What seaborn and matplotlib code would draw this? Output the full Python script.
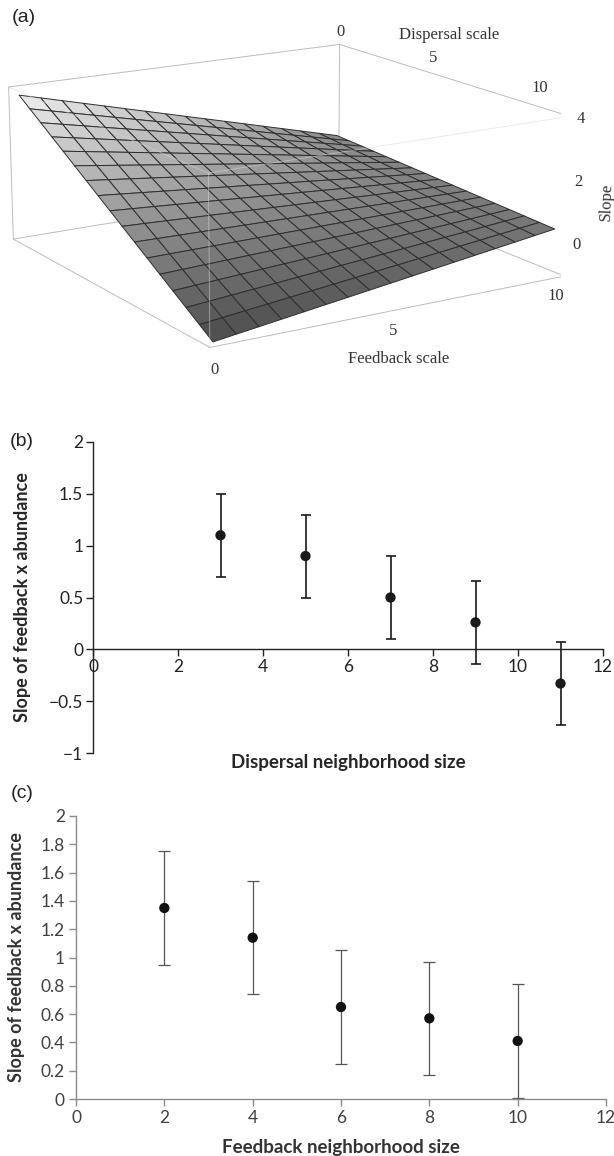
import numpy as np
import matplotlib
matplotlib.use("Agg")
import matplotlib.pyplot as plt
import seaborn as sns
from matplotlib import cm, colors
from matplotlib.ticker import FuncFormatter, MultipleLocator

sns.set_style("ticks")
plt.rcParams["font.family"] = ["Lato", "DejaVu Sans"]

# (a) fitted slope surface: slope = b0 + b_d*dispersal + b_f*feedback + b_df*dispersal*feedback
scale_ticks = [0, 5, 10]
slope_ticks = [0, 2, 4]
intercept = 3.8
coef_dispersal = -0.48
coef_feedback = -0.295
coef_interaction = 0.044

# (b) slope vs dispersal neighborhood size
dispersal_size = [3, 5, 7, 9, 11]
dispersal_slope = [1.1, 0.9, 0.5, 0.26, -0.33]
dispersal_err = [0.4, 0.4, 0.4, 0.4, 0.4]

# (c) slope vs feedback neighborhood size
feedback_size = [2, 4, 6, 8, 10]
feedback_slope = [1.35, 1.14, 0.65, 0.57, 0.41]
feedback_err = [0.4, 0.4, 0.4, 0.4, 0.4]

W, H = 614, 1156
fig = plt.figure(figsize=(W / 100, H / 100), dpi=100)


def rect(l, t, r, b):
    return [l / W, 1 - b / H, (r - l) / W, (b - t) / H]


def fmt(v, pos):
    return f"{v:g}".replace("-", "\u2212")


# ---------------- (a) ----------------
# mathematica-like box: small padding around the data, perspective view
pad = 0.2
lo_s, hi_s = -pad, 10 + pad
lo, hi = -1.05, 4.05
S = 575.3
ax3 = fig.add_axes([-13.8 / W, 680.7 / H, S / W, S / H], projection="3d")
ax3.set_xlim(lo_s, hi_s)
ax3.set_ylim(lo_s, hi_s)
ax3.set_zlim(lo, hi)
ax3.set_proj_type("persp", focal_length=0.75)
ax3.set_box_aspect((1, 1, 0.4))
ax3.view_init(elev=15, azim=-32)
ax3.set_axis_off()
ax3.computed_zorder = False

grid = np.linspace(0, 10, 17)
D, F = np.meshgrid(grid, grid, indexing="ij")
Z = intercept + coef_dispersal * D + coef_feedback * F + coef_interaction * D * F
shade = cm.gray(colors.Normalize(-1, 4)(Z) * 0.65 + 0.28)

box = "#bcbcbc"
back_edges = [
    ([lo_s, lo_s], [lo_s, hi_s], [hi, hi]), ([lo_s, hi_s], [hi_s, hi_s], [hi, hi]),
    ([lo_s, lo_s], [lo_s, hi_s], [lo, lo]), ([lo_s, hi_s], [hi_s, hi_s], [lo, lo]),
    ([lo_s, lo_s], [hi_s, hi_s], [lo, hi]), ([lo_s, lo_s], [lo_s, lo_s], [lo, hi]),
    ([hi_s, hi_s], [hi_s, hi_s], [lo, hi]), ([lo_s, hi_s], [lo_s, lo_s], [lo, lo]),
    ([hi_s, hi_s], [lo_s, hi_s], [lo, lo]),
]
for xs, ys, zs in back_edges:
    ax3.plot(xs, ys, zs, color=box, lw=0.7, zorder=1)

ax3.plot_surface(D, F, Z, facecolors=shade, rstride=1, cstride=1,
                 edgecolor="#2e2e2e", linewidth=0.7, shade=False, antialiased=True, zorder=2)

front_edges = [
    ([lo_s, hi_s], [lo_s, lo_s], [hi, hi]), ([hi_s, hi_s], [lo_s, hi_s], [hi, hi]),
    ([hi_s, hi_s], [lo_s, lo_s], [lo, hi]),
]
for xs, ys, zs in front_edges:
    ax3.plot(xs, ys, zs, color="#d8d8d8", lw=0.6, alpha=0.6, zorder=3)

serif = dict(family="Liberation Serif", fontsize=12, color="#333333", ha="center", va="center")
for tk in scale_ticks:
    ax3.text(tk, 10.1 - 0.07 * tk, 4.55 + 0.045 * tk, str(tk), zorder=4, **serif)
    ax3.text(10.5, -0.25 + 0.995 * tk, -1.6 + 0.01 * tk, str(tk), zorder=4, **serif)
for tk in slope_ticks:
    ax3.text(10.2, 10.55, tk - 0.1, str(tk), zorder=4, **serif)
ax3.text(3.3, 11.5, 4.95, "Dispersal scale", zorder=4, **serif)
ax3.text(10.8, 4.7, -2.3, "Feedback scale", zorder=4, **serif)
ax3.text(10.2, 11.5, 1.1, "Slope", zdir="z", zorder=4, **serif)

# ---------------- (b) ----------------
axb = fig.add_axes(rect(93, 442, 603, 753))
sns.scatterplot(x=dispersal_size, y=dispersal_slope, ax=axb, color="#1a1a1a",
                s=55, edgecolor="none", zorder=3)
axb.errorbar(dispersal_size, dispersal_slope, yerr=dispersal_err, fmt="none",
             ecolor="#1a1a1a", elinewidth=1.2, capsize=3.5, capthick=1.2)
axb.set_xlim(0, 12)
axb.set_ylim(-1, 2)
axb.xaxis.set_major_locator(MultipleLocator(2))
axb.yaxis.set_major_locator(MultipleLocator(0.5))
axb.xaxis.set_major_formatter(FuncFormatter(fmt))
axb.yaxis.set_major_formatter(FuncFormatter(fmt))
sns.despine(ax=axb)
axb.spines["bottom"].set_position(("data", 0))
for sp in axb.spines.values():
    sp.set_color("#222222")
    sp.set_linewidth(1.0)
axb.tick_params(axis="both", labelsize=12.5, colors="#222222", length=5, width=1.0, pad=2)
axb.set_xlabel("Dispersal neighborhood size", fontsize=13.5, fontweight="bold", va="center")
axb.set_ylabel("Slope of feedback x abundance", fontsize=13, fontweight="bold", va="center")
axb.xaxis.set_label_coords(0.5, -0.029)
axb.yaxis.set_label_coords(-0.139, 0.5)

# ---------------- (c) ----------------
axc = fig.add_axes(rect(76, 816, 606, 1099))
sns.scatterplot(x=feedback_size, y=feedback_slope, ax=axc, color="#111111",
                s=55, edgecolor="none", zorder=3)
axc.errorbar(feedback_size, feedback_slope, yerr=feedback_err, fmt="none",
             ecolor="#555555", elinewidth=0.9, capsize=4, capthick=0.9)
axc.set_xlim(0, 12)
axc.set_ylim(0, 2)
axc.xaxis.set_major_locator(MultipleLocator(2))
axc.yaxis.set_major_locator(MultipleLocator(0.2))
axc.xaxis.set_major_formatter(FuncFormatter(fmt))
axc.yaxis.set_major_formatter(FuncFormatter(fmt))
sns.despine(ax=axc)
for sp in axc.spines.values():
    sp.set_color("#8c8c8c")
    sp.set_linewidth(1.0)
axc.tick_params(axis="both", labelsize=12.5, colors="#8c8c8c", labelcolor="#404040",
                length=5, width=1.0, pad=3)
axc.set_xlabel("Feedback neighborhood size", fontsize=13.5, fontweight="bold",
               color="#333333", va="center")
axc.set_ylabel("Slope of feedback x abundance", fontsize=13, fontweight="bold",
               color="#333333", va="center")
axc.xaxis.set_label_coords(0.5, -0.17)
axc.yaxis.set_label_coords(-0.113, 0.5)

for lab, (x, y) in zip(["(a)", "(b)", "(c)"], [(24, 18), (22, 442), (22, 793)]):
    fig.text(x / W, 1 - y / H, lab, fontsize=14, family="Liberation Sans",
             ha="center", va="center", color="#222222")

fig.savefig("out.png", dpi=100)
